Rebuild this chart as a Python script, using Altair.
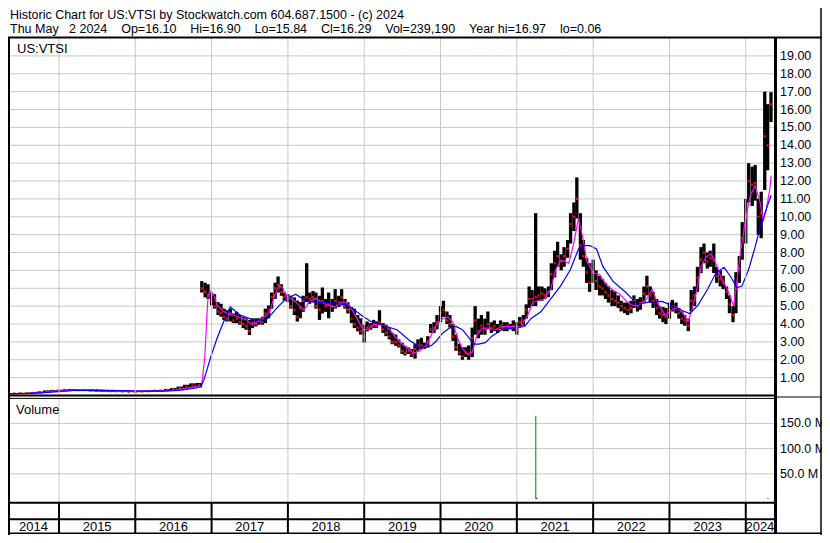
import altair as alt
import pandas as pd

# ------------------------------------------------------------------ text
HEADER_1 = "Historic Chart for US:VTSI by Stockwatch.com 604.687.1500 - (c) 2024"
HEADER_2 = "Thu May   2 2024    Op=16.10    Hi=16.90    Lo=15.84    Cl=16.29    Vol=239,190    Year hi=16.97    lo=0.06"
SYMBOL = "US:VTSI"
VOL_TITLE = "Volume"

YEARS = [2014, 2015, 2016, 2017, 2018, 2019, 2020, 2021, 2022, 2023, 2024]
PRICE_TICKS = [1, 2, 3, 4, 5, 6, 7, 8, 9, 10, 11, 12, 13, 14, 15, 16, 17, 18, 19]
PRICE_LABELS = ["1.00", "2.00", "3.00", "4.00", "5.00", "6.00", "7.00", "8.00", "9.00", "10.00",
                "11.00", "12.00", "13.00", "14.00", "15.00", "16.00", "17.00", "18.00", "19.00"]
VOL_TICKS = [50e6, 100e6, 150e6]
VOL_LABELS = ["50.0 M", "100.0 M", "150.0 M"]
X_START, X_END = 2014.332, 2024.370   # visible span, decimal years

# ------------------------------------------------------------------ prices
# monthly bars, May 2014 - Nov 2016
PRE_START, PRE_N = "2014-05-01", 31
pre_hi = [0.14, 0.14, 0.15, 0.16, 0.18, 0.22, 0.28, 0.30, 0.32, 0.34, 0.36, 0.36, 0.35, 0.33, 0.31, 0.30,
          0.28, 0.28, 0.27, 0.27, 0.26, 0.27, 0.28, 0.30, 0.31, 0.36, 0.42, 0.50, 0.60, 0.68, 0.70]
pre_lo = [0.06, 0.07, 0.08, 0.09, 0.10, 0.12, 0.16, 0.20, 0.22, 0.24, 0.26, 0.26, 0.25, 0.24, 0.22, 0.21,
          0.20, 0.20, 0.19, 0.19, 0.18, 0.19, 0.20, 0.21, 0.22, 0.25, 0.29, 0.34, 0.40, 0.45, 0.45]
pre_cl = [0.10, 0.11, 0.12, 0.12, 0.14, 0.18, 0.22, 0.26, 0.28, 0.30, 0.31, 0.30, 0.30, 0.28, 0.27, 0.25,
          0.24, 0.24, 0.23, 0.22, 0.22, 0.23, 0.24, 0.26, 0.27, 0.31, 0.36, 0.42, 0.50, 0.55, 0.58]

# semi-monthly bars, mid Nov 2016 - May 2024
POST_START, POST_N = "2016-11-15", 180
post_hi = [6.40, 6.31, 6.22, 5.76, 5.67, 5.22, 5.13, 4.86, 4.77, 4.86, 4.59, 4.68, 4.50, 4.41, 4.32, 4.23,
           4.32, 4.32, 4.32, 4.41, 4.86, 5.04, 5.76, 6.31, 6.66, 6.22, 5.76, 5.67, 5.58, 5.49, 5.31, 5.22,
           5.58, 7.40, 5.76, 5.85, 5.76, 5.58, 6.04, 5.40, 5.76, 5.40, 5.95, 5.58, 5.95, 5.40, 5.22, 4.95,
           4.86, 4.50, 4.32, 3.96, 4.14, 4.05, 4.23, 4.14, 4.77, 4.05, 3.96, 3.77, 3.50, 3.41, 3.14, 2.96,
           2.78, 2.69, 2.60, 2.87, 3.14, 3.23, 2.96, 3.32, 4.00, 4.10, 4.50, 5.00, 5.30, 4.70, 4.50, 4.00,
           3.40, 2.90, 2.70, 2.70, 2.80, 3.80, 5.00, 4.30, 4.50, 4.30, 4.70, 4.10, 4.20, 4.00, 4.20, 4.10,
           4.10, 4.00, 4.20, 4.10, 4.40, 4.50, 5.10, 6.10, 5.90, 10.20, 6.10, 6.10, 6.00, 6.10, 7.40, 8.10,
           8.60, 7.90, 8.30, 8.70, 10.20, 10.80, 12.20, 10.20, 8.70, 7.70, 7.40, 7.60, 7.00, 6.70, 6.50, 6.30,
           6.10, 5.90, 5.80, 5.60, 5.30, 5.20, 5.20, 5.30, 5.60, 5.40, 5.50, 6.10, 6.70, 6.10, 5.80, 5.40,
           5.00, 4.95, 4.90, 5.20, 5.35, 5.20, 4.90, 4.70, 4.50, 4.30, 5.90, 6.10, 7.20, 8.30, 8.50, 8.00,
           8.10, 8.50, 7.20, 7.00, 6.70, 6.10, 5.60, 5.00, 6.90, 7.80, 9.70, 11.00, 13.00, 12.80, 12.90, 11.00,
           11.40, 17.00, 16.30, 16.97]
post_lo = [5.76, 5.49, 5.40, 5.04, 4.86, 4.50, 4.41, 4.23, 4.14, 4.14, 4.05, 4.05, 3.96, 3.77, 3.68, 3.38,
           3.77, 3.86, 3.96, 3.96, 4.05, 4.32, 4.86, 5.40, 5.76, 5.58, 5.31, 5.22, 4.86, 4.50, 4.14, 4.32,
           4.68, 5.22, 5.13, 5.22, 4.86, 4.23, 4.59, 4.68, 4.32, 4.68, 4.86, 4.95, 5.04, 4.86, 4.59, 4.05,
           3.77, 3.59, 3.41, 2.96, 3.59, 3.68, 3.77, 3.77, 3.96, 3.50, 3.32, 3.14, 2.87, 2.78, 2.69, 2.33,
           2.24, 2.33, 2.15, 2.06, 2.51, 2.60, 2.60, 2.69, 3.50, 3.50, 3.70, 4.10, 4.40, 4.00, 3.80, 3.05,
           2.50, 2.25, 2.00, 2.15, 2.00, 2.15, 3.40, 3.20, 3.40, 3.40, 3.70, 3.50, 3.60, 3.50, 3.70, 3.60,
           3.60, 3.70, 3.60, 3.40, 3.80, 3.90, 4.30, 4.90, 5.00, 5.00, 5.30, 5.30, 5.40, 5.50, 5.90, 6.60,
           7.20, 7.00, 7.20, 7.70, 8.50, 9.20, 9.90, 7.60, 7.20, 6.30, 5.80, 6.30, 5.90, 5.60, 5.60, 5.40,
           5.20, 5.00, 5.00, 4.90, 4.70, 4.60, 4.50, 4.60, 4.90, 4.70, 4.80, 5.20, 5.60, 5.20, 4.90, 4.50,
           4.30, 4.10, 4.00, 4.30, 4.70, 4.60, 4.30, 4.00, 3.90, 3.60, 4.70, 5.00, 5.80, 6.85, 7.40, 7.10,
           7.20, 6.85, 6.30, 6.10, 5.95, 5.40, 4.60, 4.10, 4.60, 6.30, 7.60, 8.50, 10.80, 10.60, 10.90, 9.00,
           8.80, 11.50, 12.60, 15.30]
post_cl = [6.00, 5.80, 5.60, 5.30, 5.00, 4.70, 4.60, 4.40, 4.30, 4.60, 4.20, 4.30, 4.10, 4.00, 3.90, 3.60,
           4.10, 4.00, 4.20, 4.10, 4.60, 4.80, 5.50, 6.00, 6.20, 5.80, 5.50, 5.40, 5.00, 4.80, 4.40, 4.90,
           5.30, 5.50, 5.40, 5.50, 5.00, 4.80, 5.30, 5.00, 5.10, 5.00, 5.30, 5.20, 5.50, 5.00, 4.80, 4.30,
           4.00, 3.80, 3.60, 3.30, 3.80, 3.90, 4.00, 3.90, 4.10, 3.70, 3.50, 3.30, 3.00, 3.00, 2.80, 2.50,
           2.40, 2.50, 2.30, 2.60, 2.80, 2.80, 2.70, 3.00, 3.70, 3.80, 4.10, 4.60, 4.80, 4.20, 4.00, 3.30,
           2.70, 2.40, 2.20, 2.40, 2.30, 3.20, 4.20, 3.60, 3.90, 3.70, 4.00, 3.80, 3.90, 3.70, 3.90, 3.80,
           3.90, 3.80, 3.90, 3.70, 4.10, 4.20, 4.80, 5.40, 5.40, 5.50, 5.60, 5.70, 5.60, 5.80, 6.80, 7.40,
           7.80, 7.50, 7.80, 8.20, 9.60, 10.00, 11.00, 8.40, 7.80, 6.90, 6.30, 6.90, 6.40, 6.10, 6.00, 5.80,
           5.60, 5.40, 5.30, 5.20, 5.00, 4.90, 4.80, 4.90, 5.30, 5.00, 5.20, 5.70, 6.10, 5.60, 5.30, 4.90,
           4.60, 4.50, 4.40, 4.80, 5.00, 4.90, 4.60, 4.30, 4.20, 3.90, 5.30, 5.60, 6.60, 7.60, 8.00, 7.50,
           7.70, 7.60, 6.70, 6.50, 6.30, 5.80, 5.10, 4.50, 6.00, 7.10, 8.80, 10.00, 12.00, 11.80, 11.90, 10.00,
           10.20, 14.50, 14.00, 16.29]

# moving averages (decimal year, value)
mag_t = [2014.34, 2014.60, 2014.80, 2014.95, 2015.10, 2015.30, 2015.55, 2015.80, 2016.05, 2016.30, 2016.50,
         2016.65, 2016.80, 2016.87, 2016.911, 2016.937, 2016.954, 2016.979, 2017.031, 2017.074, 2017.138,
         2017.202, 2017.288, 2017.374, 2017.459, 2017.524, 2017.609, 2017.695, 2017.760, 2017.824, 2017.888,
         2017.931, 2017.974, 2018.059, 2018.145, 2018.209, 2018.274, 2018.359, 2018.445, 2018.531, 2018.616,
         2018.702, 2018.766, 2018.830, 2018.916, 2018.981, 2019.045, 2019.130, 2019.216, 2019.302, 2019.387,
         2019.473, 2019.559, 2019.644, 2019.730, 2019.816, 2019.880, 2019.945, 2020.030, 2020.094, 2020.158,
         2020.222, 2020.287, 2020.351, 2020.415, 2020.480, 2020.544, 2020.630, 2020.716, 2020.801, 2020.930,
         2021.058, 2021.144, 2021.208, 2021.272, 2021.358, 2021.444, 2021.508, 2021.572, 2021.630, 2021.680,
         2021.744, 2021.808, 2021.872, 2021.915, 2022.001, 2022.086, 2022.172, 2022.258, 2022.343, 2022.429,
         2022.515, 2022.600, 2022.700, 2022.773, 2022.837, 2022.943, 2023.029, 2023.094, 2023.179, 2023.243,
         2023.286, 2023.351, 2023.415, 2023.479, 2023.544, 2023.608, 2023.672, 2023.758, 2023.843, 2023.929,
         2023.994, 2024.058, 2024.122, 2024.187, 2024.229, 2024.272, 2024.315, 2024.333]
mag_v = [0.11, 0.12, 0.17, 0.24, 0.28, 0.31, 0.29, 0.25, 0.23, 0.25, 0.30,
         0.38, 0.50, 0.55, 2.15, 4.32, 5.58, 5.85, 5.58, 5.04, 4.77,
         4.59, 4.50, 4.35, 4.23, 3.96, 4.14, 4.41, 4.68, 5.58, 6.16,
         6.04, 5.58, 5.40, 5.04, 4.77, 5.22, 5.44, 5.22, 5.04, 4.95,
         5.22, 5.22, 4.86, 4.23, 3.68, 3.68, 3.96, 3.96, 3.87, 3.41,
         2.96, 2.69, 2.36, 2.51, 2.80, 3.40, 3.95, 4.31, 4.40, 4.13,
         3.23, 2.60, 2.33, 2.42, 3.40, 3.77, 3.77, 3.68, 3.86, 3.86,
         3.86, 4.50, 5.22, 5.30, 5.40, 5.94, 7.03, 7.57, 7.50, 7.40,
         8.48, 9.92, 8.66, 7.57, 6.85, 6.76, 6.21, 5.90, 5.70, 5.30,
         5.04, 5.05, 5.40, 5.94, 5.22, 4.50, 4.77, 4.95, 4.59, 4.14,
         4.68, 5.76, 7.21, 7.75, 7.93, 7.39, 6.66, 5.94, 5.00, 7.93,
         9.74, 11.19, 11.73, 10.83, 9.74, 10.47, 11.55, 12.30]
blue_t = [2014.34, 2014.60, 2014.80, 2015.00, 2015.20, 2015.50, 2015.80, 2016.10, 2016.40, 2016.60, 2016.80,
          2016.86, 2016.902, 2016.988, 2017.074, 2017.159, 2017.245, 2017.374, 2017.545, 2017.716, 2017.888,
          2017.974, 2018.102, 2018.230, 2018.359, 2018.616, 2018.788, 2018.959, 2019.087, 2019.216, 2019.430,
          2019.602, 2019.730, 2019.816, 2019.880, 2019.945, 2020.030, 2020.116, 2020.202, 2020.287, 2020.373,
          2020.437, 2020.501, 2020.587, 2020.673, 2020.801, 2020.930, 2021.101, 2021.187, 2021.315, 2021.444,
          2021.572, 2021.701, 2021.808, 2021.872, 2021.958, 2022.044, 2022.129, 2022.258, 2022.429, 2022.580,
          2022.729, 2022.901, 2023.029, 2023.158, 2023.265, 2023.372, 2023.500, 2023.608, 2023.715, 2023.801,
          2023.886, 2023.950, 2024.036, 2024.122, 2024.187, 2024.272, 2024.333]
blue_v = [0.11, 0.12, 0.16, 0.22, 0.28, 0.30, 0.27, 0.24, 0.25, 0.30, 0.42,
          0.51, 0.90, 2.15, 3.23, 4.14, 4.95, 4.50, 4.23, 4.23, 5.04,
          5.40, 5.67, 5.31, 5.22, 5.17, 5.04, 4.50, 4.14, 3.96, 3.68,
          3.05, 2.72, 2.69, 2.80, 3.05, 3.50, 3.77, 3.86, 3.68, 3.23,
          2.87, 2.87, 2.96, 3.32, 3.68, 3.77, 3.86, 4.31, 4.68, 5.40,
          6.12, 7.03, 8.20, 8.39, 8.39, 8.20, 7.21, 6.40, 5.76, 5.10,
          5.22, 5.26, 5.04, 4.77, 4.59, 5.04, 5.94, 6.85, 7.17, 6.66,
          6.03, 6.12, 7.03, 8.30, 9.38, 10.47, 11.20]

# volume (decimal year, shares, direction)
vol_t = [2021.247, 2021.262, 2024.290]
vol_v = [165e6, 2.5e6, 2.5e6]
vol_dir = ["up", "down", "up"]

# ------------------------------------------------------------------ helpers
def dec_year(ts):
    a = pd.Timestamp(year=ts.year, month=1, day=1)
    b = pd.Timestamp(year=ts.year + 1, month=1, day=1)
    return ts.year + (ts - a) / (b - a)

pre_t = [dec_year(d) for d in pd.date_range(PRE_START, periods=PRE_N, freq="MS")]
post_t = [dec_year(d) for d in pd.date_range(POST_START, periods=POST_N, freq="SMS")]

df_pre = pd.DataFrame({"t": pre_t, "hi": pre_hi, "lo": pre_lo, "cl": pre_cl})
df_post = pd.DataFrame({"t": post_t, "hi": post_hi, "lo": post_lo, "cl": post_cl})
df_mag = pd.DataFrame({"t": mag_t, "v": mag_v})
df_blue = pd.DataFrame({"t": blue_t, "v": blue_v})
df_vol = pd.DataFrame({"t": vol_t, "v": vol_v, "d": vol_dir})
df_pt = pd.DataFrame({"v": PRICE_TICKS, "lab": PRICE_LABELS})
df_vt = pd.DataFrame({"v": VOL_TICKS, "lab": VOL_LABELS})
df_bounds = pd.DataFrame({"t": [y for y in YEARS if X_START < y < X_END]})
df_years = pd.DataFrame({
    "t": [(max(y, X_START) + min(y + 1, X_END)) / 2 for y in YEARS],
    "lab": [str(y) for y in YEARS],
})
ONE = pd.DataFrame({"k": [0]})

FONT = "Liberation Sans"
TXT = "#000010"
GRID = "#c8c8c8"

# pixel layout (chart is 814 x 527)
PLOT_R = 766
MAIN_TOP, MAIN_BOT = 30, 387.5
VOL_TOP, VOL_BOT = 391, 494.7
ROW2, BOTTOM = 511.2, 525.3

xs = alt.Scale(domain=[X_START, X_END], range=[0, PLOT_R])
ys_p = alt.Scale(domain=[0, 20], range=[MAIN_BOT, MAIN_TOP])
ys_v = alt.Scale(domain=[0, 150e6], range=[491, 415.4])
X = alt.X("t:Q", scale=xs, axis=None)


def rule(x1, x2, y1, y2, w, color="black"):
    return alt.Chart(ONE).mark_rule(color=color, strokeWidth=w).encode(
        x=alt.value(x1), x2=alt.value(x2), y=alt.value(y1), y2=alt.value(y2))


def label(text, x, y, size=13, align="left"):
    return alt.Chart(pd.DataFrame({"s": [text]})).mark_text(
        font=FONT, fontSize=size, color=TXT, align=align, baseline="alphabetic"
    ).encode(x=alt.value(x), y=alt.value(y), text="s:N")

# ------------------------------------------------------------------ price panel
p_grid = alt.Chart(df_pt).mark_rule(color=GRID, strokeWidth=1).encode(
    y=alt.Y("v:Q", scale=ys_p, axis=None), x=alt.value(0), x2=alt.value(PLOT_R))
p_pre = alt.Chart(df_pre).mark_rule(color="black", strokeWidth=6.4).encode(
    x=X, y=alt.Y("lo:Q", scale=ys_p, axis=None), y2="hi:Q")
p_post = alt.Chart(df_post).mark_rule(color="black", strokeWidth=3.3).encode(
    x=X, y=alt.Y("lo:Q", scale=ys_p, axis=None), y2="hi:Q")
p_cl_pre = alt.Chart(df_pre).mark_square(color="#ff0000", size=5, opacity=1).encode(
    x=X, y=alt.Y("cl:Q", scale=ys_p, axis=None))
p_cl = alt.Chart(df_post).mark_square(color="#ff0000", size=5, opacity=1).encode(
    x=X, y=alt.Y("cl:Q", scale=ys_p, axis=None))
p_mag = alt.Chart(df_mag).mark_line(color="#ff00ff", strokeWidth=1.2).encode(
    x=X, y=alt.Y("v:Q", scale=ys_p, axis=None))
p_blue = alt.Chart(df_blue).mark_line(color="#0000ff", strokeWidth=1.2).encode(
    x=X, y=alt.Y("v:Q", scale=ys_p, axis=None))
p_lab = alt.Chart(df_pt).mark_text(font=FONT, fontSize=12.5, color=TXT, align="left",
                                   baseline="middle").encode(
    y=alt.Y("v:Q", scale=ys_p, axis=None), x=alt.value(772), text="lab:N")
price = alt.layer(p_grid, p_pre, p_post, p_cl_pre, p_cl, p_mag, p_blue, p_lab)

# ------------------------------------------------------------------ volume panel
v_grid = alt.Chart(df_vt).mark_rule(color=GRID, strokeWidth=1).encode(
    y=alt.Y("v:Q", scale=ys_v, axis=None), x=alt.value(0), x2=alt.value(PLOT_R))
v_bar = alt.Chart(df_vol).mark_rule(strokeWidth=1.5).encode(
    x=X, y=alt.Y("v:Q", scale=ys_v, axis=None), y2=alt.datum(0),
    color=alt.Color("d:N", scale=alt.Scale(domain=["up", "down"], range=["#3cb43c", "#e00000"]),
                    legend=None))
v_lab = alt.Chart(df_vt).mark_text(font=FONT, fontSize=12.5, color=TXT, align="left",
                                   baseline="middle").encode(
    y=alt.Y("v:Q", scale=ys_v, axis=None), x=alt.value(772), text="lab:N")
volume = alt.layer(v_grid, v_bar, v_lab)

# ------------------------------------------------------------------ frame and x labels
vgrid_main = alt.Chart(df_bounds).mark_rule(color=GRID, strokeWidth=1).encode(
    x=X, y=alt.value(MAIN_TOP), y2=alt.value(MAIN_BOT))
vgrid_vol = alt.Chart(df_bounds).mark_rule(color=GRID, strokeWidth=1).encode(
    x=X, y=alt.value(VOL_TOP), y2=alt.value(VOL_BOT))
year_lines = alt.Chart(df_bounds).mark_rule(color="black", strokeWidth=2).encode(
    x=X, y=alt.value(VOL_BOT), y2=alt.value(BOTTOM))
year_text = alt.Chart(df_years).mark_text(font=FONT, fontSize=13, color=TXT, align="center",
                                          baseline="alphabetic").encode(
    x=X, y=alt.value(522.5), text="lab:N")

frame = alt.layer(
    vgrid_main, vgrid_vol,
    rule(0, 814, 29.6, 29.6, 2),                 # under header
    rule(1, 1, 29.6, 527, 2),                    # left edge
    rule(813, 813, 0, 527, 1.5),                 # right edge
    rule(0, 767, MAIN_BOT, MAIN_BOT, 2),         # main / volume separator
    rule(0, 767, 390.4, 390.4, 1),
    rule(767, 814, 389, 389, 1),
    rule(0, 767, VOL_BOT, VOL_BOT, 2),
    rule(0, 767, ROW2, ROW2, 2),
    rule(0, 814, BOTTOM, BOTTOM, 1.5),
    year_lines,
    rule(767.5, 767.5, 29.6, BOTTOM, 3),         # axis column border
    year_text,
    label(HEADER_1.replace(" ", "\u00a0"), 2, 11, size=12.5),
    label(HEADER_2.replace(" ", "\u00a0"), 2, 24.5, size=12.5),
    label(SYMBOL, 9, 45),
    label(VOL_TITLE, 8, 405.5),
)

chart = alt.layer(price, volume, frame).resolve_scale(y="independent").properties(
    width=814, height=527, autosize=alt.AutoSizeParams(type="none"), padding=0,
    background="white",
).configure_view(stroke=None)

chart.save("out.html", embed_options={"renderer": "svg", "actions": False})
